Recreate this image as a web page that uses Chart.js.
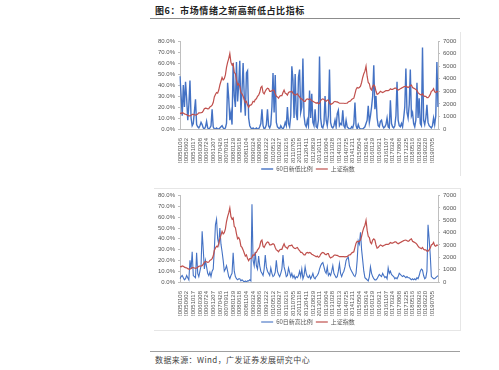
<!DOCTYPE html>
<html>
<head>
<meta charset="utf-8">
<script src="https://cdn.jsdelivr.net/npm/chart.js@4.4.0/dist/chart.umd.min.js"></script>
<style>
  body { margin: 0; background: #fff; width: 499px; height: 370px; position: relative; overflow: hidden; font-family: "Noto Sans CJK SC", sans-serif; }
  .abs { position: absolute; }
  #title { left: 155px; top: 5px; font-size: 9px; line-height: 12px; font-weight: bold; color: #222; letter-spacing: 0.6px; }
  #foot { left: 155px; top: 354px; font-size: 8px; line-height: 11px; color: #444; letter-spacing: 0.4px; }
  .hr { background: #8c8c8c; height: 1px; }
  .frame { background: #e6e6e6; }
</style>
</head>
<body>
<div id="title" class="abs">图6：市场情绪之新高新低占比指标</div>
<div class="abs hr" style="left:150px;top:18px;width:310px;"></div>

<div class="abs frame" style="left:460px;top:32px;width:1px;height:144px;"></div>
<canvas id="c1" class="abs" style="left:156px;top:33px;" width="304" height="149"></canvas>

<div class="abs frame" style="left:154px;top:188px;width:307px;height:1px;"></div>
<div class="abs frame" style="left:460px;top:188px;width:1px;height:142px;"></div>
<div class="abs frame" style="left:154px;top:330px;width:307px;height:1px;"></div>
<canvas id="c2" class="abs" style="left:156px;top:189px;" width="304" height="146"></canvas>

<div class="abs hr" style="left:150px;top:351px;width:310px;background:#a0a0a0;"></div>
<div id="foot" class="abs">数据来源：Wind，广发证券发展研究中心</div>

<script>
// tick labels on the date axis (one every 6 points)
const tickDates = ['20050106','20050602','20051017','20060308','20060724','20061207','20070426','20070911',
  '20080129','20080618','20081104','20090324','20090806','20091222','20100512','20100927','20110216',
  '20110705','20111118','20120411','20120829','20130111','20130604','20131028','20140313','20140725',
  '20141211','20150504','20150914','20160129','20160621','20161107','20170324','20170808','20171225',
  '20180516','20180926','20190220','20190705'];

// 上证指数 (right axis)
const shIndex = [
  1260,1230,1300,1270,1200,1170,1150,1080,1050,1040,1090,1160,1160,1130,1100,1140,
  1200,1280,1290,1300,1320,1440,1610,1660,1640,1600,1620,1750,1800,1900,2100,2550,
  2750,2900,2850,3100,3500,3800,4100,3900,4000,4300,4900,5300,5600,6000,5300,5100,
  5200,4500,4400,3900,3500,3600,3400,2900,2800,2600,2350,2100,2200,1900,1720,1900,
  1900,2000,2200,2150,2350,2400,2600,2700,2900,3300,3400,2900,2800,3000,3150,3250,
  3200,3000,3000,3050,3100,3050,2800,2600,2550,2450,2600,2650,2650,2900,3100,2850,
  2800,2700,2900,2950,2950,3000,2850,2750,2700,2750,2800,2650,2550,2400,2400,2300,
  2200,2200,2350,2400,2350,2400,2350,2250,2200,2150,2100,2050,2100,2000,2050,2250,
  2350,2400,2350,2250,2200,2300,2300,2050,1950,2000,2050,2150,2200,2150,2150,2100,
  2050,2050,2050,2050,2050,2030,2050,2050,2150,2200,2220,2350,2400,2450,2800,3150,
  3300,3250,3300,3400,3700,4100,4400,4600,5000,4200,3700,3600,3200,3100,3400,3500,
  3400,3000,2750,2800,2900,3000,2950,2900,2950,3000,3050,3050,3050,3100,3200,3150,
  3150,3200,3250,3250,3150,3100,3150,3200,3250,3300,3350,3380,3400,3350,3300,3350,
  3450,3500,3300,3250,3200,3150,3050,2900,2800,2750,2700,2800,2650,2600,2600,2500,
  2500,2600,2750,3000,3050,3200,2950,2900,3000,2950
];

// 60日新低比例 (%)
const newLowPct = [
  48,30,12,40,20,43,28,8,22,44,10,3,5,16,27,4,
  2,1,3,6,4,1,0,2,7,1,0,1,3,18,2,0,
  0,1,0,0,1,2,3,1,0,1,5,42,28,8,15,4,
  60,30,20,61,25,40,62,15,35,60,30,12,51,53,10,3,
  1,0,1,0,0,1,0,0,2,5,18,3,0,1,4,18,
  3,1,4,20,51,15,49,6,2,1,0,3,1,0,2,6,
  3,20,5,2,12,57,45,10,50,14,8,47,54,15,20,64,
  12,4,2,8,3,35,10,32,6,3,18,2,1,8,66,10,
  2,1,5,30,8,3,12,54,6,2,1,3,8,2,14,17,
  3,5,4,17,3,1,8,2,1,0,0,2,1,5,24,3,
  0,4,1,0,0,0,1,2,5,8,21,6,12,20,30,58,
  18,30,10,3,2,7,8,3,1,2,4,10,2,1,26,5,
  2,1,3,12,43,8,3,2,5,2,10,20,55,15,10,22,
  54,12,15,5,2,8,42,10,28,5,3,74,8,4,10,22,
  6,3,2,1,3,10,4,12,61,20
];

// 60日新高比例 (%)
const newHighPct = [
  3,5,6,4,2,3,6,4,2,20,12,28,6,5,4,27,
  8,5,10,15,47,30,12,20,14,8,6,9,5,10,12,30,
  53,58,40,35,50,35,28,20,10,12,15,10,5,3,6,8,
  27,10,5,3,2,3,3,1,2,1,0,1,0,1,1,2,
  1,72,20,15,28,15,12,24,15,10,8,6,12,25,14,10,
  8,6,13,8,5,6,9,20,10,7,5,8,12,25,14,10,
  5,6,13,9,5,8,4,6,3,5,4,6,10,5,12,3,
  6,14,8,5,4,6,3,5,8,4,3,5,6,8,12,15,
  17,18,14,10,8,14,6,8,6,10,15,8,6,4,5,10,
  17,8,5,8,10,14,20,22,23,15,12,10,8,6,5,8,
  20,38,35,46,30,20,10,4,3,2,1,5,14,8,5,3,
  2,2,3,5,7,6,5,8,6,4,5,3,13,8,10,7,
  6,5,3,4,3,5,8,7,6,5,6,5,4,5,4,4,
  3,2,3,2,3,2,4,3,6,10,12,11,6,3,4,10,
  53,40,25,5,4,3,3,4,5,6
];

const labels = shIndex.map((_, i) => (i % 6 === 0 && tickDates[i / 6]) ? tickDates[i / 6] : '');

const BLUE = '#4472C4';
const RED = '#C0504D';
const tickFont = { family: 'Liberation Sans', size: 6 };

function makeChart(id, blueData, blueLabel, blueWidth, padTop) {
  return new Chart(document.getElementById(id).getContext('2d'), {
    type: 'line',
    data: {
      labels: labels,
      datasets: [{
        label: blueLabel,
        data: blueData,
        yAxisID: 'y',
        borderColor: BLUE,
        backgroundColor: BLUE,
        borderWidth: blueWidth,
        pointRadius: 0,
        tension: 0,
        order: 1
      }, {
        label: '上证指数',
        data: shIndex,
        yAxisID: 'y1',
        borderColor: RED,
        backgroundColor: RED,
        borderWidth: 1.2,
        pointRadius: 0,
        tension: 0,
        order: 0
      }]
    },
    options: {
      responsive: false,
      animation: false,
      layout: { padding: { top: padTop, left: 0, right: 0, bottom: 0 } },
      scales: {
        x: {
          ticks: { autoSkip: false, maxRotation: 90, minRotation: 90, font: tickFont, color: '#555', padding: 1 },
          grid: { display: false },
          border: { color: '#bfbfbf' },
          afterFit: s => { s.height = 34; }
        },
        y: {
          position: 'left',
          min: 0, max: 80,
          ticks: { stepSize: 10, autoSkip: false, callback: v => v.toFixed(1) + '%', font: tickFont, color: '#555', padding: 3 },
          grid: { drawOnChartArea: false, tickLength: 2, color: '#bfbfbf' },
          border: { color: '#bfbfbf' },
          afterFit: s => { s.width = 24; }
        },
        y1: {
          position: 'right',
          min: 0, max: 7000,
          ticks: { stepSize: 1000, autoSkip: false, callback: v => String(v), font: tickFont, color: '#555', padding: 3 },
          grid: { drawOnChartArea: false, tickLength: 2, color: '#bfbfbf' },
          border: { color: '#bfbfbf' },
          afterFit: s => { s.width = 22; }
        }
      },
      plugins: {
        tooltip: { enabled: false },
        legend: {
          position: 'bottom',
          labels: {
            usePointStyle: true,
            pointStyle: 'line',
            pointStyleWidth: 12,
            boxHeight: 6,
            padding: 3,
            color: '#555',
            font: { family: '"Noto Sans CJK SC"', size: 6 },
            sort: (a, b) => a.datasetIndex - b.datasetIndex
          }
        }
      }
    }
  });
}

makeChart('c1', newLowPct, '60日新低比例', 1.4, 8);
makeChart('c2', newHighPct, '60日新高比例', 1.1, 6);
</script>
</body>
</html>
